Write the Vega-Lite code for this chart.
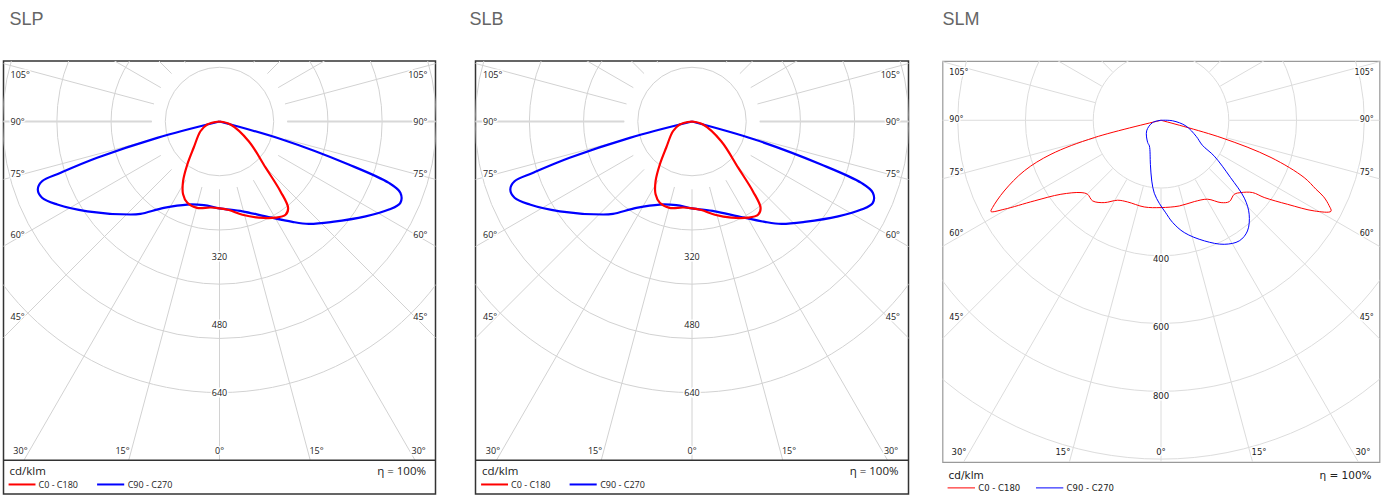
{
"$schema": "https://vega.github.io/schema/vega-lite/v6.json",
"background": "white",
"padding": {"left": 1.5, "top": 10, "right": 0, "bottom": 0},
"spacing": 31,
"datasets": {
"sl": [
{"series":"C90 - C270","i":0,"x":0,"y":0},{"series":"C90 - C270","i":1,"x":-147,"y":-38.5},{"series":"C90 - C270","i":2,"x":-289,"y":-85.7},{"series":"C90 - C270","i":3,"x":-375,"y":-121},{"series":"C90 - C270","i":4,"x":-419,"y":-141},{"series":"C90 - C270","i":5,"x":-429,"y":-160.6},{"series":"C90 - C270","i":6,"x":-419,"y":-180},{"series":"C90 - C270","i":7,"x":-383,"y":-196},{"series":"C90 - C270","i":8,"x":-312,"y":-212},{"series":"C90 - C270","i":9,"x":-210,"y":-219.6},{"series":"C90 - C270","i":10,"x":-186.5,"y":-218},{"series":"C90 - C270","i":11,"x":-131.5,"y":-204},{"series":"C90 - C270","i":12,"x":-76,"y":-196},{"series":"C90 - C270","i":13,"x":-37,"y":-197.6},{"series":"C90 - C270","i":14,"x":0,"y":-205},{"series":"C90 - C270","i":15,"x":54,"y":-212},{"series":"C90 - C270","i":16,"x":109,"y":-224},{"series":"C90 - C270","i":17,"x":172,"y":-237},{"series":"C90 - C270","i":18,"x":211,"y":-241.6},{"series":"C90 - C270","i":19,"x":266,"y":-237},{"series":"C90 - C270","i":20,"x":345,"y":-224},{"series":"C90 - C270","i":21,"x":400,"y":-208},{"series":"C90 - C270","i":22,"x":427,"y":-192},{"series":"C90 - C270","i":23,"x":427,"y":-168},{"series":"C90 - C270","i":24,"x":400,"y":-145},{"series":"C90 - C270","i":25,"x":305,"y":-101.5},{"series":"C90 - C270","i":26,"x":148,"y":-42.5},{"series":"C90 - C270","i":27,"x":0,"y":0},
{"series":"C0 - C180","i":0,"x":0,"y":0},{"series":"C0 - C180","i":1,"x":-29,"y":-7},{"series":"C0 - C180","i":2,"x":-45,"y":-23},{"series":"C0 - C180","i":3,"x":-61,"y":-62},{"series":"C0 - C180","i":4,"x":-76,"y":-101.5},{"series":"C0 - C180","i":5,"x":-86,"y":-141},{"series":"C0 - C180","i":6,"x":-86,"y":-172},{"series":"C0 - C180","i":7,"x":-76,"y":-192},{"series":"C0 - C180","i":8,"x":-53,"y":-204},{"series":"C0 - C180","i":9,"x":-21,"y":-203},{"series":"C0 - C180","i":10,"x":0,"y":-205},{"series":"C0 - C180","i":11,"x":22,"y":-209},{"series":"C0 - C180","i":12,"x":54,"y":-220},{"series":"C0 - C180","i":13,"x":93,"y":-227},{"series":"C0 - C180","i":14,"x":132,"y":-227},{"series":"C0 - C180","i":15,"x":156,"y":-220},{"series":"C0 - C180","i":16,"x":162,"y":-204},{"series":"C0 - C180","i":17,"x":144,"y":-165},{"series":"C0 - C180","i":18,"x":109,"y":-109},{"series":"C0 - C180","i":19,"x":69,"y":-46.5},{"series":"C0 - C180","i":20,"x":26,"y":-7},{"series":"C0 - C180","i":21,"x":0,"y":0}
],
"slm": [
{"series":"C0 - C180","i":0,"x":0,"y":0},{"series":"C0 - C180","i":1,"x":-195,"y":-50.6},{"series":"C0 - C180","i":2,"x":-322,"y":-99.5},{"series":"C0 - C180","i":3,"x":-400,"y":-148},{"series":"C0 - C180","i":4,"x":-459,"y":-207},{"series":"C0 - C180","i":5,"x":-493,"y":-255.5},{"series":"C0 - C180","i":6,"x":-497.5,"y":-267},{"series":"C0 - C180","i":7,"x":-459,"y":-260.5},{"series":"C0 - C180","i":8,"x":-371,"y":-236},{"series":"C0 - C180","i":9,"x":-293,"y":-216.6},{"series":"C0 - C180","i":10,"x":-234,"y":-211.6},{"series":"C0 - C180","i":11,"x":-215,"y":-216.6},{"series":"C0 - C180","i":12,"x":-200,"y":-236},{"series":"C0 - C180","i":13,"x":-166,"y":-241},{"series":"C0 - C180","i":14,"x":-127,"y":-234},{"series":"C0 - C180","i":15,"x":-98,"y":-239},{"series":"C0 - C180","i":16,"x":-49,"y":-253.7},{"series":"C0 - C180","i":17,"x":0,"y":-255.5},{"series":"C0 - C180","i":18,"x":53.6,"y":-250.8},{"series":"C0 - C180","i":19,"x":97.5,"y":-238},{"series":"C0 - C180","i":20,"x":136,"y":-231},{"series":"C0 - C180","i":21,"x":176,"y":-241},{"series":"C0 - C180","i":22,"x":200,"y":-238},{"series":"C0 - C180","i":23,"x":214.5,"y":-216.6},{"series":"C0 - C180","i":24,"x":234,"y":-211.6},{"series":"C0 - C180","i":25,"x":268,"y":-211.6},{"series":"C0 - C180","i":26,"x":302,"y":-226},{"series":"C0 - C180","i":27,"x":370.5,"y":-246},{"series":"C0 - C180","i":28,"x":448.6,"y":-265.4},{"series":"C0 - C180","i":29,"x":497.5,"y":-266.3},{"series":"C0 - C180","i":30,"x":492,"y":-250},{"series":"C0 - C180","i":31,"x":476,"y":-224},{"series":"C0 - C180","i":32,"x":453.6,"y":-201.9},{"series":"C0 - C180","i":33,"x":419,"y":-167.7},{"series":"C0 - C180","i":34,"x":322,"y":-109},{"series":"C0 - C180","i":35,"x":175.6,"y":-50.6},{"series":"C0 - C180","i":36,"x":0,"y":0},
{"series":"C90 - C270","i":0,"x":0,"y":0},{"series":"C90 - C270","i":1,"x":-24.6,"y":-6.7},{"series":"C90 - C270","i":2,"x":-42,"y":-31},{"series":"C90 - C270","i":3,"x":-39,"y":-65},{"series":"C90 - C270","i":4,"x":-34,"y":-75},{"series":"C90 - C270","i":5,"x":-31,"y":-129},{"series":"C90 - C270","i":6,"x":-27,"y":-178},{"series":"C90 - C270","i":7,"x":-19.6,"y":-213.6},{"series":"C90 - C270","i":8,"x":-5,"y":-243},{"series":"C90 - C270","i":9,"x":12.6,"y":-269},{"series":"C90 - C270","i":10,"x":34,"y":-299},{"series":"C90 - C270","i":11,"x":68,"y":-328.6},{"series":"C90 - C270","i":12,"x":127,"y":-353},{"series":"C90 - C270","i":13,"x":185,"y":-363},{"series":"C90 - C270","i":14,"x":229,"y":-353},{"series":"C90 - C270","i":15,"x":253,"y":-324},{"series":"C90 - C270","i":16,"x":258,"y":-275},{"series":"C90 - C270","i":17,"x":244,"y":-228},{"series":"C90 - C270","i":18,"x":203,"y":-167},{"series":"C90 - C270","i":19,"x":156,"y":-105},{"series":"C90 - C270","i":20,"x":121,"y":-73},{"series":"C90 - C270","i":21,"x":103,"y":-47},{"series":"C90 - C270","i":22,"x":73,"y":-16.7},{"series":"C90 - C270","i":23,"x":34,"y":-1.5},{"series":"C90 - C270","i":24,"x":0,"y":0}
],
"rings12": [{"r":160},{"r":320},{"r":480},{"r":640},{"r":800}],
"rings3": [{"r":200},{"r":400},{"r":600},{"r":800},{"r":1000}],
"spokes12": [
{"x":0,"y":-160,"x2":0,"y2":-800},
{"x":41.41,"y":-154.55,"x2":214.36,"y2":-800},{"x":-41.41,"y":-154.55,"x2":-214.36,"y2":-800},
{"x":80,"y":-138.56,"x2":461.88,"y2":-800},{"x":-80,"y":-138.56,"x2":-461.88,"y2":-800},
{"x":113.14,"y":-113.14,"x2":919.24,"y2":-919.24},{"x":-113.14,"y":-113.14,"x2":-919.24,"y2":-919.24},
{"x":138.56,"y":-80,"x2":1125.83,"y2":-650},{"x":-138.56,"y":-80,"x2":-1125.83,"y2":-650},
{"x":154.55,"y":-41.41,"x2":1255.7,"y2":-336.46},{"x":-154.55,"y":-41.41,"x2":-1255.7,"y2":-336.46},
{"x":160,"y":0,"x2":1300,"y2":0},{"x":-160,"y":0,"x2":-1300,"y2":0},
{"x":154.55,"y":41.41,"x2":1255.7,"y2":336.46},{"x":-154.55,"y":41.41,"x2":-1255.7,"y2":336.46},
{"x":138.56,"y":80,"x2":1125.83,"y2":650},{"x":-138.56,"y":80,"x2":-1125.83,"y2":650},
{"x":113.14,"y":113.14,"x2":919.24,"y2":919.24},{"x":-113.14,"y":113.14,"x2":-919.24,"y2":919.24},
{"x":80,"y":138.56,"x2":650,"y2":1125.83},{"x":-80,"y":138.56,"x2":-650,"y2":1125.83},
{"x":41.41,"y":154.55,"x2":336.46,"y2":1255.7},{"x":-41.41,"y":154.55,"x2":-336.46,"y2":1255.7}
],
"spokes3": [
{"x":0,"y":-200,"x2":0,"y2":-1000},
{"x":51.76,"y":-193.19,"x2":267.95,"y2":-1000},{"x":-51.76,"y":-193.19,"x2":-267.95,"y2":-1000},
{"x":100,"y":-173.21,"x2":577.35,"y2":-1000},{"x":-100,"y":-173.21,"x2":-577.35,"y2":-1000},
{"x":141.42,"y":-141.42,"x2":1131.37,"y2":-1131.37},{"x":-141.42,"y":-141.42,"x2":-1131.37,"y2":-1131.37},
{"x":173.21,"y":-100,"x2":1385.64,"y2":-800},{"x":-173.21,"y":-100,"x2":-1385.64,"y2":-800},
{"x":193.19,"y":-51.76,"x2":1545.48,"y2":-414.11},{"x":-193.19,"y":-51.76,"x2":-1545.48,"y2":-414.11},
{"x":200,"y":0,"x2":1600,"y2":0},{"x":-200,"y":0,"x2":-1600,"y2":0},
{"x":193.19,"y":51.76,"x2":1545.48,"y2":414.11},{"x":-193.19,"y":51.76,"x2":-1545.48,"y2":414.11},
{"x":173.21,"y":100,"x2":1385.64,"y2":800},{"x":-173.21,"y":100,"x2":-1385.64,"y2":800},
{"x":141.42,"y":141.42,"x2":1131.37,"y2":1131.37},{"x":-141.42,"y":141.42,"x2":-1131.37,"y2":1131.37},
{"x":100,"y":173.21,"x2":800,"y2":1385.64},{"x":-100,"y":173.21,"x2":-800,"y2":1385.64}
],
"labels12": [
{"t":"105°","x":-493.5,"y":111,"side":"left"},{"t":"90°","x":-493.5,"y":0,"side":"left"},{"t":"75°","x":-493.5,"y":-125,"side":"left"},{"t":"60°","x":-493.5,"y":-267,"side":"left"},{"t":"45°","x":-493.5,"y":-462,"side":"left"},
{"t":"105°","x":491,"y":111,"side":"right"},{"t":"90°","x":491,"y":0,"side":"right"},{"t":"75°","x":491,"y":-125,"side":"right"},{"t":"60°","x":491,"y":-267,"side":"right"},{"t":"45°","x":491,"y":-462,"side":"right"},
{"t":"30°","x":-470,"y":-777,"side":"bottom"},{"t":"15°","x":-229,"y":-777,"side":"bottom"},{"t":"0°","x":0,"y":-777,"side":"bottom"},{"t":"15°","x":229,"y":-777,"side":"bottom"},{"t":"30°","x":470,"y":-777,"side":"bottom"},
{"t":"320","x":0,"y":-321,"side":"ring"},{"t":"480","x":0,"y":-481,"side":"ring"},{"t":"640","x":0,"y":-641,"side":"ring"}
],
"labels3": [
{"t":"105°","x":-619.5,"y":139.6,"side":"left"},{"t":"90°","x":-619.5,"y":0,"side":"left"},{"t":"75°","x":-619.5,"y":-153,"side":"left"},{"t":"60°","x":-619.5,"y":-333.6,"side":"left"},{"t":"45°","x":-619.5,"y":-577.4,"side":"left"},
{"t":"105°","x":622.8,"y":139.6,"side":"right"},{"t":"90°","x":622.8,"y":0,"side":"right"},{"t":"75°","x":622.8,"y":-153,"side":"right"},{"t":"60°","x":622.8,"y":-333.6,"side":"right"},{"t":"45°","x":622.8,"y":-577.4,"side":"right"},
{"t":"30°","x":-591,"y":-970.7,"side":"bottom"},{"t":"15°","x":-287,"y":-970.7,"side":"bottom"},{"t":"0°","x":0,"y":-970.7,"side":"bottom"},{"t":"15°","x":287,"y":-970.7,"side":"bottom"},{"t":"30°","x":591,"y":-970.7,"side":"bottom"},
{"t":"400","x":0,"y":-406,"side":"ring"},{"t":"600","x":0,"y":-606,"side":"ring"},{"t":"800","x":0,"y":-806,"side":"ring"}
]
},
"hconcat": [
{
"width": 432, "height": 433,
"title": {"text": "SLP", "anchor": "start", "frame": "group", "dx": 6, "offset": 18, "baseline": "alphabetic", "font": "Liberation Sans", "fontSize": 18, "fontWeight": "normal", "color": "#666666"},
"view": {"stroke": "#333333", "strokeWidth": 1.5},
"layer": [
{"data": {"name": "rings12"}, "mark": {"type": "point", "shape": "circle", "filled": false, "stroke": "#d2d2d2", "strokeWidth": 1, "opacity": 1, "clip": true},
 "encoding": {"x": {"datum": 0, "type": "quantitative", "scale": {"domain": [-510, 510], "nice": false, "zero": false}, "axis": null},
  "y": {"datum": 0, "type": "quantitative", "scale": {"domain": [-879.5, 142.9], "nice": false, "zero": false}, "axis": null},
  "size": {"field": "r", "type": "quantitative", "scale": {"type": "pow", "exponent": 2, "domain": [0, 800], "range": [0, 459206]}, "legend": null}}},
{"data": {"name": "spokes12"}, "mark": {"type": "rule", "stroke": "#d2d2d2", "strokeWidth": 1, "clip": true},
 "encoding": {"x": {"field": "x", "type": "quantitative", "axis": null}, "y": {"field": "y", "type": "quantitative", "axis": null}, "x2": {"field": "x2"}, "y2": {"field": "y2"}}},
{"data": {"name": "spokes12"}, "transform": [{"filter": "datum.y === 0 && datum.y2 === 0"}], "mark": {"type": "rule", "stroke": "#d8d8d8", "strokeWidth": 2, "clip": true},
 "encoding": {"x": {"field": "x", "type": "quantitative", "axis": null}, "y": {"field": "y", "type": "quantitative", "axis": null}, "x2": {"field": "x2"}, "y2": {"field": "y2"}}},
{"data": {"values": [{"limit": -800}]}, "mark": {"type": "rule", "stroke": "#333333", "strokeWidth": 1.5},
 "encoding": {"y": {"field": "limit", "type": "quantitative", "axis": null}}},
{"data": {"name": "labels12"}, "transform": [{"filter": "datum.side === 'left'"}], "mark": {"type": "text", "align": "left", "baseline": "middle", "font": "Open Sans", "fontSize": 9, "fill": "white", "stroke": "white", "strokeWidth": 3},
 "encoding": {"x": {"field": "x", "type": "quantitative", "axis": null}, "y": {"field": "y", "type": "quantitative", "axis": null}, "text": {"field": "t"}}},
{"data": {"name": "labels12"}, "transform": [{"filter": "datum.side === 'right'"}], "mark": {"type": "text", "align": "right", "baseline": "middle", "font": "Open Sans", "fontSize": 9, "fill": "white", "stroke": "white", "strokeWidth": 3},
 "encoding": {"x": {"field": "x", "type": "quantitative", "axis": null}, "y": {"field": "y", "type": "quantitative", "axis": null}, "text": {"field": "t"}}},
{"data": {"name": "labels12"}, "transform": [{"filter": "datum.side === 'bottom' || datum.side === 'ring'"}], "mark": {"type": "text", "align": "center", "baseline": "middle", "font": "Open Sans", "fontSize": 9, "fill": "white", "stroke": "white", "strokeWidth": 3},
 "encoding": {"x": {"field": "x", "type": "quantitative", "axis": null}, "y": {"field": "y", "type": "quantitative", "axis": null}, "text": {"field": "t"}}},
{"data": {"name": "labels12"}, "transform": [{"filter": "datum.side === 'left'"}], "mark": {"type": "text", "align": "left", "baseline": "middle", "font": "Open Sans", "fontSize": 9, "fill": "#222222"},
 "encoding": {"x": {"field": "x", "type": "quantitative", "axis": null}, "y": {"field": "y", "type": "quantitative", "axis": null}, "text": {"field": "t"}}},
{"data": {"name": "labels12"}, "transform": [{"filter": "datum.side === 'right'"}], "mark": {"type": "text", "align": "right", "baseline": "middle", "font": "Open Sans", "fontSize": 9, "fill": "#222222"},
 "encoding": {"x": {"field": "x", "type": "quantitative", "axis": null}, "y": {"field": "y", "type": "quantitative", "axis": null}, "text": {"field": "t"}}},
{"data": {"name": "labels12"}, "transform": [{"filter": "datum.side === 'bottom' || datum.side === 'ring'"}], "mark": {"type": "text", "align": "center", "baseline": "middle", "font": "Open Sans", "fontSize": 9, "fill": "#222222"},
 "encoding": {"x": {"field": "x", "type": "quantitative", "axis": null}, "y": {"field": "y", "type": "quantitative", "axis": null}, "text": {"field": "t"}}},
{"data": {"name": "sl"}, "mark": {"type": "line", "strokeWidth": 2.2, "interpolate": "catmull-rom", "strokeJoin": "round", "clip": true},
 "encoding": {"x": {"field": "x", "type": "quantitative", "axis": null}, "y": {"field": "y", "type": "quantitative", "axis": null}, "order": {"field": "i", "type": "quantitative"},
  "color": {"field": "series", "type": "nominal", "scale": {"domain": ["C0 - C180", "C90 - C270"], "range": ["#ff0000", "#0000ff"]}, "legend": null}}},
{"data": {"values": [{"series": "C0 - C180"}]}, "mark": {"type": "rule", "strokeWidth": 2},
 "encoding": {"x": {"datum": -498, "type": "quantitative", "axis": null}, "x2": {"datum": -434.5}, "y": {"datum": -857, "type": "quantitative", "axis": null}, "color": {"field": "series", "type": "nominal", "legend": null}}},
{"data": {"values": [{"series": "C90 - C270"}]}, "mark": {"type": "rule", "strokeWidth": 2},
 "encoding": {"x": {"datum": -289, "type": "quantitative", "axis": null}, "x2": {"datum": -225}, "y": {"datum": -857, "type": "quantitative", "axis": null}, "color": {"field": "series", "type": "nominal", "legend": null}}},
{"data": {"values": [{"series": "C0 - C180"}]}, "mark": {"type": "text", "align": "left", "baseline": "middle", "font": "Open Sans", "fontSize": 9, "fill": "#222222"},
 "encoding": {"x": {"datum": -427.4, "type": "quantitative", "axis": null}, "y": {"datum": -858, "type": "quantitative", "axis": null}, "text": {"field": "series"}}},
{"data": {"values": [{"series": "C90 - C270"}]}, "mark": {"type": "text", "align": "left", "baseline": "middle", "font": "Open Sans", "fontSize": 9, "fill": "#222222"},
 "encoding": {"x": {"datum": -216.8, "type": "quantitative", "axis": null}, "y": {"datum": -858, "type": "quantitative", "axis": null}, "text": {"field": "series"}}},
{"data": {"values": [{"unit": "cd/klm"}]}, "mark": {"type": "text", "align": "left", "baseline": "middle", "font": "Open Sans", "fontSize": 11.5, "fill": "#222222"},
 "encoding": {"x": {"datum": -495.9, "type": "quantitative", "axis": null}, "y": {"datum": -828, "type": "quantitative", "axis": null}, "text": {"field": "unit"}}},
{"data": {"values": [{"eta": "η = 100%"}]}, "mark": {"type": "text", "align": "right", "baseline": "middle", "font": "Open Sans", "fontSize": 11.5, "fill": "#222222"},
 "encoding": {"x": {"datum": 487.6, "type": "quantitative", "axis": null}, "y": {"datum": -828, "type": "quantitative", "axis": null}, "text": {"field": "eta"}}}
]
},
{
"width": 433, "height": 433,
"title": {"text": "SLB", "anchor": "start", "frame": "group", "dx": -6, "offset": 18, "baseline": "alphabetic", "font": "Liberation Sans", "fontSize": 18, "fontWeight": "normal", "color": "#666666"},
"view": {"stroke": "#333333", "strokeWidth": 1.5},
"layer": [
{"data": {"name": "rings12"}, "mark": {"type": "point", "shape": "circle", "filled": false, "stroke": "#d2d2d2", "strokeWidth": 1, "opacity": 1, "clip": true},
 "encoding": {"x": {"datum": 0, "type": "quantitative", "scale": {"domain": [-511.2, 511.2], "nice": false, "zero": false}, "axis": null},
  "y": {"datum": 0, "type": "quantitative", "scale": {"domain": [-879.5, 142.9], "nice": false, "zero": false}, "axis": null},
  "size": {"field": "r", "type": "quantitative", "scale": {"type": "pow", "exponent": 2, "domain": [0, 800], "range": [0, 459170]}, "legend": null}}},
{"data": {"name": "spokes12"}, "mark": {"type": "rule", "stroke": "#d2d2d2", "strokeWidth": 1, "clip": true},
 "encoding": {"x": {"field": "x", "type": "quantitative", "axis": null}, "y": {"field": "y", "type": "quantitative", "axis": null}, "x2": {"field": "x2"}, "y2": {"field": "y2"}}},
{"data": {"name": "spokes12"}, "transform": [{"filter": "datum.y === 0 && datum.y2 === 0"}], "mark": {"type": "rule", "stroke": "#d8d8d8", "strokeWidth": 2, "clip": true},
 "encoding": {"x": {"field": "x", "type": "quantitative", "axis": null}, "y": {"field": "y", "type": "quantitative", "axis": null}, "x2": {"field": "x2"}, "y2": {"field": "y2"}}},
{"data": {"values": [{"limit": -800}]}, "mark": {"type": "rule", "stroke": "#333333", "strokeWidth": 1.5},
 "encoding": {"y": {"field": "limit", "type": "quantitative", "axis": null}}},
{"data": {"name": "labels12"}, "transform": [{"filter": "datum.side === 'left'"}], "mark": {"type": "text", "align": "left", "baseline": "middle", "font": "Open Sans", "fontSize": 9, "fill": "white", "stroke": "white", "strokeWidth": 3},
 "encoding": {"x": {"field": "x", "type": "quantitative", "axis": null}, "y": {"field": "y", "type": "quantitative", "axis": null}, "text": {"field": "t"}}},
{"data": {"name": "labels12"}, "transform": [{"filter": "datum.side === 'right'"}], "mark": {"type": "text", "align": "right", "baseline": "middle", "font": "Open Sans", "fontSize": 9, "fill": "white", "stroke": "white", "strokeWidth": 3},
 "encoding": {"x": {"field": "x", "type": "quantitative", "axis": null}, "y": {"field": "y", "type": "quantitative", "axis": null}, "text": {"field": "t"}}},
{"data": {"name": "labels12"}, "transform": [{"filter": "datum.side === 'bottom' || datum.side === 'ring'"}], "mark": {"type": "text", "align": "center", "baseline": "middle", "font": "Open Sans", "fontSize": 9, "fill": "white", "stroke": "white", "strokeWidth": 3},
 "encoding": {"x": {"field": "x", "type": "quantitative", "axis": null}, "y": {"field": "y", "type": "quantitative", "axis": null}, "text": {"field": "t"}}},
{"data": {"name": "labels12"}, "transform": [{"filter": "datum.side === 'left'"}], "mark": {"type": "text", "align": "left", "baseline": "middle", "font": "Open Sans", "fontSize": 9, "fill": "#222222"},
 "encoding": {"x": {"field": "x", "type": "quantitative", "axis": null}, "y": {"field": "y", "type": "quantitative", "axis": null}, "text": {"field": "t"}}},
{"data": {"name": "labels12"}, "transform": [{"filter": "datum.side === 'right'"}], "mark": {"type": "text", "align": "right", "baseline": "middle", "font": "Open Sans", "fontSize": 9, "fill": "#222222"},
 "encoding": {"x": {"field": "x", "type": "quantitative", "axis": null}, "y": {"field": "y", "type": "quantitative", "axis": null}, "text": {"field": "t"}}},
{"data": {"name": "labels12"}, "transform": [{"filter": "datum.side === 'bottom' || datum.side === 'ring'"}], "mark": {"type": "text", "align": "center", "baseline": "middle", "font": "Open Sans", "fontSize": 9, "fill": "#222222"},
 "encoding": {"x": {"field": "x", "type": "quantitative", "axis": null}, "y": {"field": "y", "type": "quantitative", "axis": null}, "text": {"field": "t"}}},
{"data": {"name": "sl"}, "mark": {"type": "line", "strokeWidth": 2.2, "interpolate": "catmull-rom", "strokeJoin": "round", "clip": true},
 "encoding": {"x": {"field": "x", "type": "quantitative", "axis": null}, "y": {"field": "y", "type": "quantitative", "axis": null}, "order": {"field": "i", "type": "quantitative"},
  "color": {"field": "series", "type": "nominal", "scale": {"domain": ["C0 - C180", "C90 - C270"], "range": ["#ff0000", "#0000ff"]}, "legend": null}}},
{"data": {"values": [{"series": "C0 - C180"}]}, "mark": {"type": "rule", "strokeWidth": 2},
 "encoding": {"x": {"datum": -498, "type": "quantitative", "axis": null}, "x2": {"datum": -434.5}, "y": {"datum": -857, "type": "quantitative", "axis": null}, "color": {"field": "series", "type": "nominal", "legend": null}}},
{"data": {"values": [{"series": "C90 - C270"}]}, "mark": {"type": "rule", "strokeWidth": 2},
 "encoding": {"x": {"datum": -289, "type": "quantitative", "axis": null}, "x2": {"datum": -225}, "y": {"datum": -857, "type": "quantitative", "axis": null}, "color": {"field": "series", "type": "nominal", "legend": null}}},
{"data": {"values": [{"series": "C0 - C180"}]}, "mark": {"type": "text", "align": "left", "baseline": "middle", "font": "Open Sans", "fontSize": 9, "fill": "#222222"},
 "encoding": {"x": {"datum": -427.4, "type": "quantitative", "axis": null}, "y": {"datum": -858, "type": "quantitative", "axis": null}, "text": {"field": "series"}}},
{"data": {"values": [{"series": "C90 - C270"}]}, "mark": {"type": "text", "align": "left", "baseline": "middle", "font": "Open Sans", "fontSize": 9, "fill": "#222222"},
 "encoding": {"x": {"datum": -216.8, "type": "quantitative", "axis": null}, "y": {"datum": -858, "type": "quantitative", "axis": null}, "text": {"field": "series"}}},
{"data": {"values": [{"unit": "cd/klm"}]}, "mark": {"type": "text", "align": "left", "baseline": "middle", "font": "Open Sans", "fontSize": 11.5, "fill": "#222222"},
 "encoding": {"x": {"datum": -495.9, "type": "quantitative", "axis": null}, "y": {"datum": -828, "type": "quantitative", "axis": null}, "text": {"field": "unit"}}},
{"data": {"values": [{"eta": "η = 100%"}]}, "mark": {"type": "text", "align": "right", "baseline": "middle", "font": "Open Sans", "fontSize": 11.5, "fill": "#222222"},
 "encoding": {"x": {"datum": 487.6, "type": "quantitative", "axis": null}, "y": {"datum": -828, "type": "quantitative", "axis": null}, "text": {"field": "eta"}}}
]
},
{
"width": 437, "height": 401,
"title": {"text": "SLM", "anchor": "start", "frame": "group", "dx": 0, "offset": 18, "baseline": "alphabetic", "font": "Liberation Sans", "fontSize": 18, "fontWeight": "normal", "color": "#666666"},
"view": {"stroke": "#9a9a9a", "strokeWidth": 1.2},
"layer": [
{"data": {"name": "rings3"}, "mark": {"type": "point", "shape": "circle", "filled": false, "stroke": "#dcdcdc", "strokeWidth": 1, "opacity": 1, "clip": true},
 "encoding": {"x": {"datum": 0, "type": "quantitative", "scale": {"domain": [-639.4, 639.4], "nice": false, "zero": false}, "axis": null},
  "y": {"datum": 0, "type": "quantitative", "scale": {"domain": [-1000.2, 173.5], "nice": false, "zero": false}, "axis": null},
  "size": {"field": "r", "type": "quantitative", "scale": {"type": "pow", "exponent": 2, "domain": [0, 1000], "range": [0, 467106]}, "legend": null}}},
{"data": {"name": "spokes3"}, "mark": {"type": "rule", "stroke": "#dcdcdc", "strokeWidth": 1, "clip": true},
 "encoding": {"x": {"field": "x", "type": "quantitative", "axis": null}, "y": {"field": "y", "type": "quantitative", "axis": null}, "x2": {"field": "x2"}, "y2": {"field": "y2"}}},
{"data": {"name": "labels3"}, "transform": [{"filter": "datum.side === 'left'"}], "mark": {"type": "text", "align": "left", "baseline": "middle", "font": "DejaVu Sans", "fontSize": 8, "fill": "white", "stroke": "white", "strokeWidth": 3},
 "encoding": {"x": {"field": "x", "type": "quantitative", "axis": null}, "y": {"field": "y", "type": "quantitative", "axis": null}, "text": {"field": "t"}}},
{"data": {"name": "labels3"}, "transform": [{"filter": "datum.side === 'right'"}], "mark": {"type": "text", "align": "right", "baseline": "middle", "font": "DejaVu Sans", "fontSize": 8, "fill": "white", "stroke": "white", "strokeWidth": 3},
 "encoding": {"x": {"field": "x", "type": "quantitative", "axis": null}, "y": {"field": "y", "type": "quantitative", "axis": null}, "text": {"field": "t"}}},
{"data": {"name": "labels3"}, "transform": [{"filter": "datum.side === 'bottom' || datum.side === 'ring'"}], "mark": {"type": "text", "align": "center", "baseline": "middle", "font": "DejaVu Sans", "fontSize": 8.5, "fill": "white", "stroke": "white", "strokeWidth": 3},
 "encoding": {"x": {"field": "x", "type": "quantitative", "axis": null}, "y": {"field": "y", "type": "quantitative", "axis": null}, "text": {"field": "t"}}},
{"data": {"name": "labels3"}, "transform": [{"filter": "datum.side === 'left'"}], "mark": {"type": "text", "align": "left", "baseline": "middle", "font": "DejaVu Sans", "fontSize": 8, "fill": "#222222"},
 "encoding": {"x": {"field": "x", "type": "quantitative", "axis": null}, "y": {"field": "y", "type": "quantitative", "axis": null}, "text": {"field": "t"}}},
{"data": {"name": "labels3"}, "transform": [{"filter": "datum.side === 'right'"}], "mark": {"type": "text", "align": "right", "baseline": "middle", "font": "DejaVu Sans", "fontSize": 8, "fill": "#222222"},
 "encoding": {"x": {"field": "x", "type": "quantitative", "axis": null}, "y": {"field": "y", "type": "quantitative", "axis": null}, "text": {"field": "t"}}},
{"data": {"name": "labels3"}, "transform": [{"filter": "datum.side === 'bottom' || datum.side === 'ring'"}], "mark": {"type": "text", "align": "center", "baseline": "middle", "font": "DejaVu Sans", "fontSize": 8.5, "fill": "#222222"},
 "encoding": {"x": {"field": "x", "type": "quantitative", "axis": null}, "y": {"field": "y", "type": "quantitative", "axis": null}, "text": {"field": "t"}}},
{"data": {"name": "slm"}, "mark": {"type": "line", "strokeWidth": 1, "interpolate": "catmull-rom", "strokeJoin": "round", "clip": true},
 "encoding": {"x": {"field": "x", "type": "quantitative", "axis": null}, "y": {"field": "y", "type": "quantitative", "axis": null}, "order": {"field": "i", "type": "quantitative"},
  "color": {"field": "series", "type": "nominal", "scale": {"domain": ["C0 - C180", "C90 - C270"], "range": ["#e37b7b", "#8f8fe6"]}, "legend": null}}},
{"data": {"values": [{"series": "C0 - C180"}]}, "mark": {"type": "rule", "strokeWidth": 1},
 "encoding": {"x": {"datum": -624.5, "type": "quantitative", "axis": null}, "x2": {"datum": -544.3}, "y": {"datum": -1076, "type": "quantitative", "axis": null}, "color": {"field": "series", "type": "nominal", "legend": null}}},
{"data": {"values": [{"series": "C90 - C270"}]}, "mark": {"type": "rule", "strokeWidth": 1},
 "encoding": {"x": {"datum": -365.8, "type": "quantitative", "axis": null}, "x2": {"datum": -285.9}, "y": {"datum": -1076, "type": "quantitative", "axis": null}, "color": {"field": "series", "type": "nominal", "legend": null}}},
{"data": {"values": [{"series": "C0 - C180"}]}, "mark": {"type": "text", "align": "left", "baseline": "middle", "font": "DejaVu Sans", "fontSize": 8.5, "fill": "#222222"},
 "encoding": {"x": {"datum": -534.7, "type": "quantitative", "axis": null}, "y": {"datum": -1077, "type": "quantitative", "axis": null}, "text": {"field": "series"}}},
{"data": {"values": [{"series": "C90 - C270"}]}, "mark": {"type": "text", "align": "left", "baseline": "middle", "font": "DejaVu Sans", "fontSize": 8.5, "fill": "#222222"},
 "encoding": {"x": {"datum": -276.3, "type": "quantitative", "axis": null}, "y": {"datum": -1077, "type": "quantitative", "axis": null}, "text": {"field": "series"}}},
{"data": {"values": [{"unit": "cd/klm"}]}, "mark": {"type": "text", "align": "left", "baseline": "middle", "font": "DejaVu Sans", "fontSize": 10.5, "fill": "#222222"},
 "encoding": {"x": {"datum": -621.6, "type": "quantitative", "axis": null}, "y": {"datum": -1041, "type": "quantitative", "axis": null}, "text": {"field": "unit"}}},
{"data": {"values": [{"eta": "η = 100%"}]}, "mark": {"type": "text", "align": "right", "baseline": "middle", "font": "DejaVu Sans", "fontSize": 10.5, "fill": "#222222"},
 "encoding": {"x": {"datum": 616.3, "type": "quantitative", "axis": null}, "y": {"datum": -1041, "type": "quantitative", "axis": null}, "text": {"field": "eta"}}}
]
}
]
}
